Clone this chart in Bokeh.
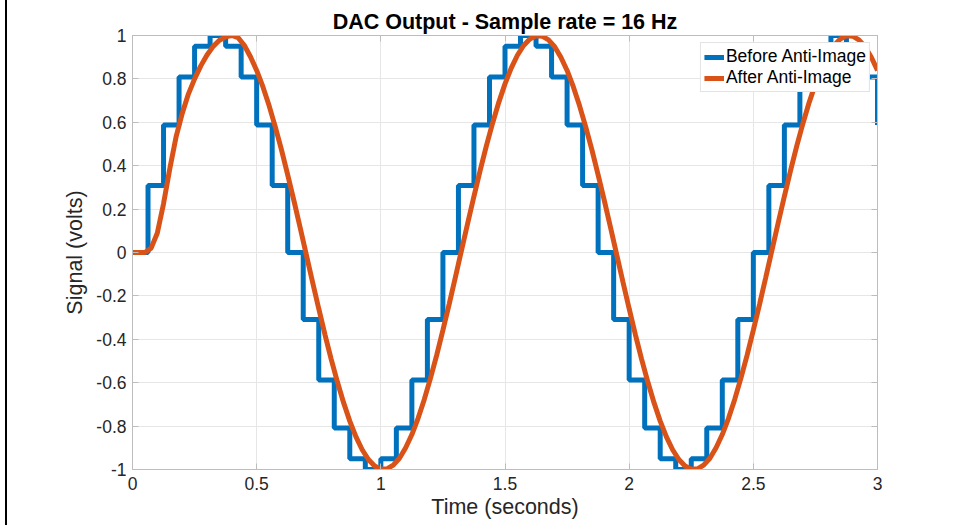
from bokeh.plotting import figure
from bokeh.models import LinearAxis, Legend, LegendItem, FixedTicker
from bokeh.embed import file_html
from bokeh.resources import INLINE

# ---- data ----
sample_rate = 16
dac_samples = [0, 0.309, 0.588, 0.809, 0.951, 1, 0.951, 0.809, 0.588, 0.309,
               0, -0.309, -0.588, -0.809, -0.951, -1, -0.951, -0.809, -0.588, -0.309,
               0, 0.309, 0.588, 0.809, 0.951, 1, 0.951, 0.809, 0.588, 0.309,
               0, -0.309, -0.588, -0.809, -0.951, -1, -0.951, -0.809, -0.588, -0.309,
               0, 0.309, 0.588, 0.809, 0.951, 1, 0.951, 0.809, 0.588]
sample_times = [n / sample_rate for n in range(len(dac_samples))]

filt_dt = 0.025
filtered = [0, 0, 0, 0.02, 0.09, 0.225, 0.385, 0.53, 0.64, 0.73,
            0.80, 0.86, 0.91, 0.95, 0.978, 0.994, 1.0, 0.99, 0.955, 0.902,
            0.839, 0.764, 0.677, 0.579, 0.473, 0.358, 0.239, 0.115, -0.011, -0.136,
            -0.259, -0.378, -0.491, -0.596, -0.692, -0.777, -0.850, -0.909, -0.954, -0.984,
            -0.999, -0.997, -0.980, -0.948, -0.900, -0.839, -0.764, -0.677, -0.579, -0.473,
            -0.358, -0.239, -0.115, 0.011, 0.136, 0.259, 0.378, 0.491, 0.596, 0.692,
            0.777, 0.850, 0.909, 0.954, 0.984, 0.999, 0.997, 0.980, 0.948, 0.900,
            0.839, 0.764, 0.677, 0.579, 0.473, 0.358, 0.239, 0.115, -0.011, -0.136,
            -0.259, -0.378, -0.491, -0.596, -0.692, -0.777, -0.850, -0.909, -0.954, -0.984,
            -0.999, -0.997, -0.980, -0.948, -0.900, -0.839, -0.764, -0.677, -0.579, -0.473,
            -0.358, -0.239, -0.115, 0.011, 0.136, 0.259, 0.378, 0.491, 0.596, 0.692,
            0.777, 0.850, 0.909, 0.954, 0.984, 0.999, 0.997, 0.980, 0.948, 0.900,
            0.839]
filt_times = [k * filt_dt for k in range(len(filtered))]

x_ticks = [0, 0.5, 1, 1.5, 2, 2.5, 3]
x_tick_labels = ["0", "0.5", "1", "1.5", "2", "2.5", "3"]
y_ticks = [-1, -0.8, -0.6, -0.4, -0.2, 0, 0.2, 0.4, 0.6, 0.8, 1]
y_tick_labels = ["-1", "-0.8", "-0.6", "-0.4", "-0.2", "0", "0.2", "0.4", "0.6", "0.8", "1"]

series_names = ["Before Anti-Image", "After Anti-Image"]
title_text = "DAC Output - Sample rate = 16 Hz"

# ---- styling ----
FONT = "Liberation Sans"
TXT = "#262626"
AXC = "#bdbdbd"
GRID = "#e6e6e6"
BLUE = "#0072BD"
ORANGE = "#D95319"

p = figure(width=950, height=525, output_backend="svg", toolbar_location=None,
           x_range=(0, 3), y_range=(-1, 1),
           min_border_left=125, min_border_right=80,
           min_border_top=35, min_border_bottom=56,
           title=title_text)
p.styles = {"border-left": "2px solid black"}
p.margin = (0, 0, 0, 5)

p.title.align = "center"
p.title.text_font = FONT
p.title.text_font_size = "21.5px"
p.title.text_font_style = "bold"
p.title.text_color = "black"
p.title.standoff = 4

p.outline_line_color = AXC
p.outline_line_width = 1
p.background_fill_color = "white"
p.border_fill_color = "white"

p.xgrid.grid_line_color = GRID
p.ygrid.grid_line_color = GRID
p.xgrid.ticker = FixedTicker(ticks=x_ticks)
p.ygrid.ticker = FixedTicker(ticks=y_ticks)

for ax, ticks, labels in ((p.xaxis[0], x_ticks, x_tick_labels), (p.yaxis[0], y_ticks, y_tick_labels)):
    ax.ticker = FixedTicker(ticks=ticks)
    ax.major_label_overrides = {t: l for t, l in zip(ticks, labels)}
    ax.axis_line_color = AXC
    ax.major_tick_line_color = AXC
    ax.major_tick_in = 6
    ax.major_tick_out = 0
    ax.minor_tick_line_color = None
    ax.major_label_text_font = FONT
    ax.major_label_text_font_size = "17.5px"
    ax.major_label_text_color = TXT
    ax.axis_label_text_font = FONT
    ax.axis_label_text_font_size = "21.5px"
    ax.axis_label_text_font_style = "normal"
    ax.axis_label_text_color = TXT

p.xaxis.axis_label = "Time (seconds)"
p.yaxis.axis_label = "Signal (volts)"
p.xaxis.major_label_standoff = 7
p.xaxis.axis_label_standoff = 2
p.yaxis.major_label_standoff = 6
p.yaxis.axis_label_standoff = 6

# box-style companion axes (ticks only)
for loc, ticks in (("right", y_ticks), ("above", x_ticks)):
    a = LinearAxis(ticker=FixedTicker(ticks=ticks))
    a.major_label_text_font_size = "0px"
    a.major_label_text_color = None
    a.axis_line_color = AXC
    a.major_tick_line_color = AXC
    a.major_tick_in = 6
    a.major_tick_out = 0
    a.minor_tick_line_color = None
    a.major_label_standoff = 0
    p.add_layout(a, loc)

r_before = p.step(sample_times, dac_samples, mode="after", line_color=BLUE, line_width=5)
r_after = p.line(filt_times, filtered, line_color=ORANGE, line_width=5)

legend = Legend(items=[LegendItem(label=series_names[0], renderers=[r_before]),
                       LegendItem(label=series_names[1], renderers=[r_after])],
                location="top_right")
legend.margin = 7
legend.padding = 3
legend.spacing = 0
legend.label_text_font = FONT
legend.label_text_font_size = "17.5px"
legend.label_text_color = "black"
legend.label_height = 18
legend.glyph_height = 18
legend.glyph_width = 20
legend.label_standoff = 2
legend.border_line_color = "#c8c8c8"
legend.background_fill_color = "white"
legend.background_fill_alpha = 1
p.add_layout(legend)

open("out.html", "w").write(file_html(p, INLINE))
